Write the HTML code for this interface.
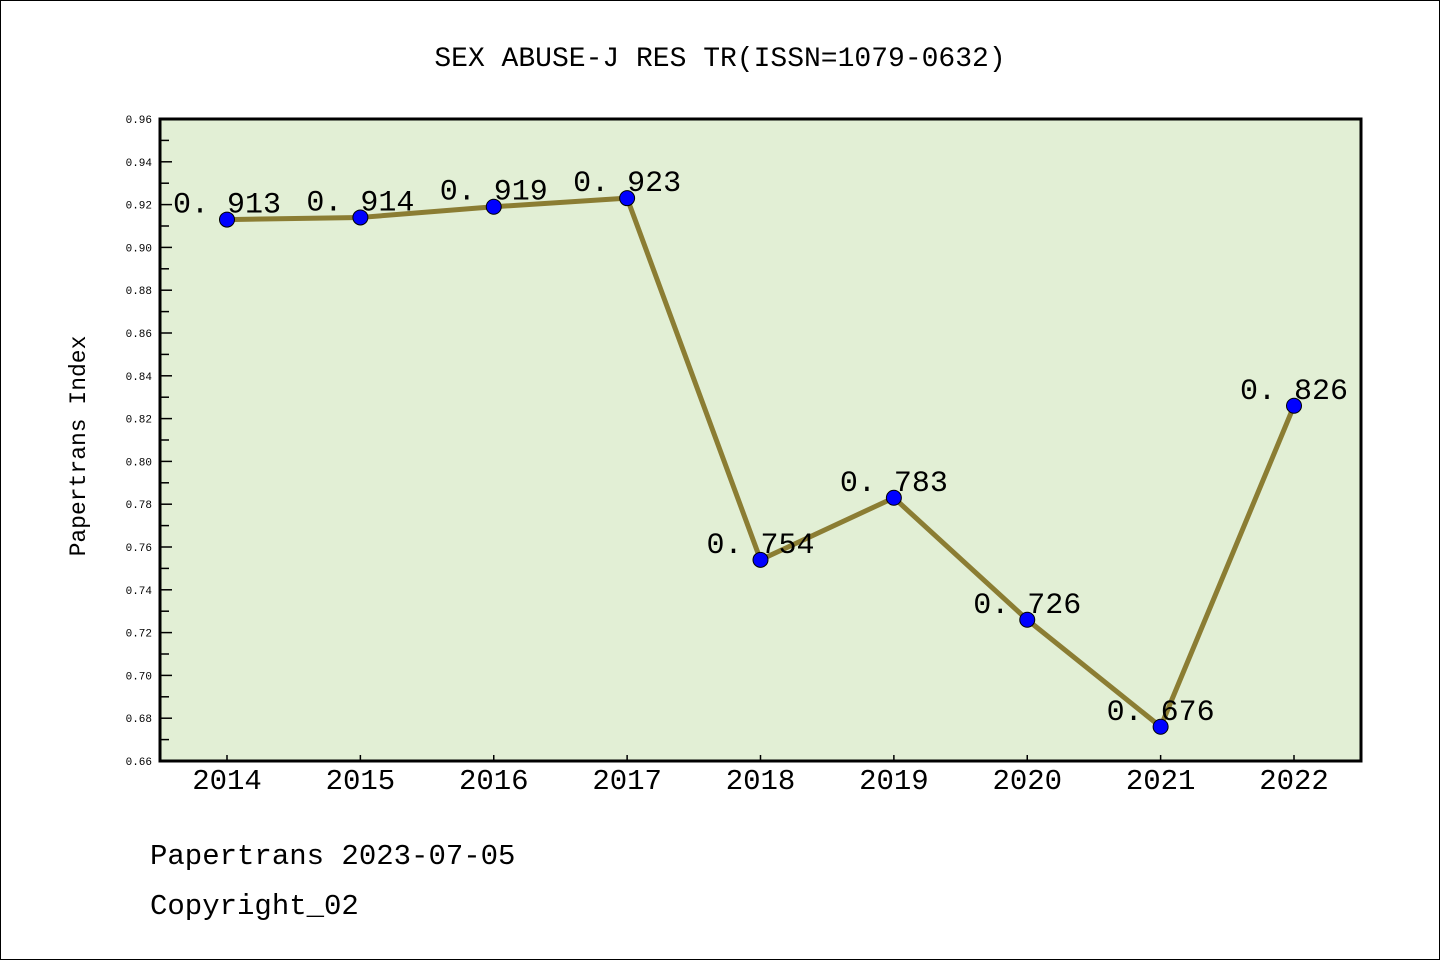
<!DOCTYPE html>
<html><head><meta charset="utf-8"><style>
html,body{margin:0;padding:0;background:#fff}
svg{display:block}
text{font-family:"Liberation Mono","WenQuanYi Zen Hei",monospace;fill:#000}
</style></head><body>
<svg id="chart" width="1440" height="960" xmlns="http://www.w3.org/2000/svg">
<rect x="0.5" y="0.5" width="1439" height="959" fill="#fff" stroke="#000"/>
<text x="720" y="66" font-size="28" text-anchor="middle">SEX ABUSE-J RES TR(ISSN=1079-0632)</text>
<rect x="160" y="119" width="1201" height="642" fill="#e2efd5"/>
<g id="yaxis"></g>
<g id="xaxis"></g>
<g id="series"></g>
<rect x="160" y="119" width="1201" height="642" fill="none" stroke="#000" stroke-width="3"/>
<text transform="translate(85,446) rotate(-90)" font-size="23" text-anchor="middle">Papertrans Index</text>
<text x="150" y="864" font-size="29">Papertrans 2023-07-05</text>
<text x="150" y="914" font-size="29">Copyright_02</text>
</svg>
<script>
const categories=["2014","2015","2016","2017","2018","2019","2020","2021","2022"];
const values=[0.913,0.914,0.919,0.923,0.754,0.783,0.726,0.676,0.826];
const yTicks=["0.66","0.68","0.70","0.72","0.74","0.76","0.78","0.80","0.82","0.84","0.86","0.88","0.90","0.92","0.94","0.96"];
const NS="http://www.w3.org/2000/svg";
const L=160,R=1361,T=119,B=761,ymin=0.66,ymax=0.96;
const y=v=>B-(v-ymin)/(ymax-ymin)*(B-T);
const x=i=>227+i*(1294-227)/(categories.length-1);
function mk(tag,attrs,parent,txt){const e=document.createElementNS(NS,tag);for(const k in attrs)e.setAttribute(k,attrs[k]);if(txt!=null)e.textContent=txt;parent.appendChild(e);return e;}
const ya=document.getElementById('yaxis'),xa=document.getElementById('xaxis'),sg=document.getElementById('series');
yTicks.forEach((t,i)=>{const v=parseFloat(t),yy=y(v);
 const ln=mk('line',{x1:L,x2:L+12,y1:yy,y2:yy,stroke:'#000','stroke-width':1.5},ya);
 
 
 const tx=mk('text',{x:152,y:yy+4,'font-size':11,'text-anchor':'end','font-family':'Liberation Sans'},ya,t);
 
 
 if(i<yTicks.length-1){const ym=y(v+0.01);
  const mn=mk('line',{x1:L,x2:L+9,y1:ym,y2:ym,stroke:'#000','stroke-width':1.5},ya);
  
  }
});
categories.forEach((c,i)=>{const xx=x(i);
 const ln=mk('line',{x1:xx,x2:xx,y1:B,y2:B-6,stroke:'#000','stroke-width':1.5},xa);
 
 
 const tx=mk('text',{x:xx,y:789,'font-size':29,'text-anchor':'middle','font-family':'Liberation Sans'},xa,c);
 
 
});
const pts=values.map((v,i)=>x(i)+','+y(v)).join(' ');
const pl=mk('polyline',{points:pts,fill:'none',stroke:'#8b7d33','stroke-width':5,'stroke-linejoin':'round'},sg);


values.forEach((v,i)=>{
 const c=mk('circle',{cx:x(i),cy:y(v),r:7.5,fill:'#0000ff',stroke:'#000','stroke-width':1},sg);
 
 
 const t=mk('text',{x:x(i),y:y(v)-7,'font-size':30,'text-anchor':'middle'},sg,'0. '+v.toFixed(3).slice(2));
 
 
});
</script>
</body></html>
